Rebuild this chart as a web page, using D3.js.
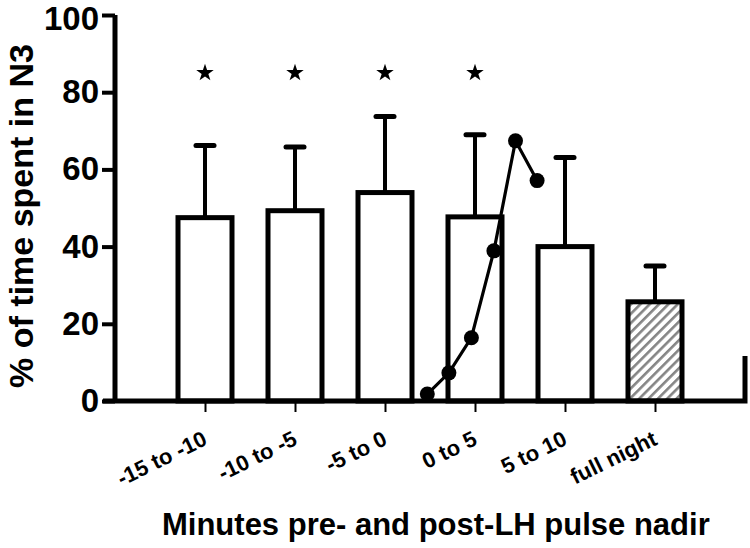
<!DOCTYPE html>
<html>
<head>
<meta charset="utf-8">
<script src="https://cdn.jsdelivr.net/npm/d3@7"></script>
<style>
  body { margin: 0; background: #fff; }
  text { font-family: Arial, "Liberation Sans", sans-serif; font-weight: bold; }
</style>
</head>
<body>
<svg width="750" height="548"></svg>
<script>
// data
var categories = ['-15 to -10', '-10 to -5', '-5 to 0', '0 to 5', '5 to 10', 'full night']
var barMeans = [47.5, 49.3, 54, 47.7, 40, 25.7]
var barErrTop = [66.2, 65.8, 73.7, 69, 63.1, 35]
var starred = ['-15 to -10', '-10 to -5', '-5 to 0', '0 to 5']
var starLevel = 85
// LH pulse curve, x in category units (0 = first category)
var lineX = [2.47, 2.71, 2.96, 3.21, 3.45, 3.69]
var lineY = [1.8, 7.3, 16.4, 38.9, 67.4, 57.1]
var yTicks = [0, 20, 40, 60, 80, 100]

var svg = d3.select('svg')

var x = d3.scalePoint()
  .domain(categories)
  .range([115, 745])
  .padding(1)

var xi = d3.scaleLinear()
  .domain([0, 1])
  .range([x(categories[0]), x(categories[1])])

var y = d3.scaleLinear()
  .domain([0, 100])
  .range([401, 15])

var barW = x.step() * 0.6

// hatch for the full night bar
var defs = svg.append('defs')
defs.append('pattern')
  .attr('id', 'hatch')
  .attr('patternUnits', 'userSpaceOnUse')
  .attr('width', 6.6).attr('height', 6.6)
  .attr('patternTransform', 'rotate(45)')
  .append('rect')
  .attr('x', 0).attr('y', 0)
  .attr('width', 2.6).attr('height', 6.6)
  .attr('fill', '#858585')

// error bars (drawn first so bar outline sits on top)
var err = svg.append('g')
err.selectAll('line.stem')
  .data(categories).enter().append('line')
  .attr('class', 'stem')
  .attr('x1', d => x(d)).attr('x2', d => x(d))
  .attr('y1', (d, i) => y(barMeans[i]))
  .attr('y2', (d, i) => y(barErrTop[i]))
  .attr('stroke', '#000').attr('stroke-width', 4)
err.selectAll('line.cap')
  .data(categories).enter().append('line')
  .attr('class', 'cap')
  .attr('x1', d => x(d) - 9).attr('x2', d => x(d) + 9)
  .attr('y1', (d, i) => y(barErrTop[i]))
  .attr('y2', (d, i) => y(barErrTop[i]))
  .attr('stroke', '#000').attr('stroke-width', 5)
  .attr('stroke-linecap', 'round')

// bars
svg.append('g').selectAll('rect')
  .data(categories).enter().append('rect')
  .attr('x', d => x(d) - barW / 2)
  .attr('width', barW)
  .attr('y', (d, i) => y(barMeans[i]))
  .attr('height', (d, i) => y(0) - y(barMeans[i]))
  .attr('fill', d => d == 'full night' ? 'url(#hatch)' : '#fff')
  .attr('stroke', '#000')
  .attr('stroke-width', 5)

// stars
svg.append('g').selectAll('path')
  .data(starred).enter().append('path')
  .attr('d', d3.symbol().type(d3.symbolStar).size(95))
  .attr('transform', d => 'translate(' + x(d) + ',' + y(starLevel) + ')')
  .attr('fill', '#000')

// LH line
var pts = lineX.map((v, i) => [xi(v), y(lineY[i])])
svg.append('path')
  .datum(pts)
  .attr('d', d3.line())
  .attr('fill', 'none')
  .attr('stroke', '#000')
  .attr('stroke-width', 3.2)
svg.append('g').selectAll('circle')
  .data(pts).enter().append('circle')
  .attr('cx', d => d[0]).attr('cy', d => d[1])
  .attr('r', 7.5)
  .attr('fill', '#000')

// y axis
var yAxis = svg.append('g')
  .attr('transform', 'translate(115,0)')
  .call(d3.axisLeft(y).tickValues(yTicks).tickSize(13).tickSizeOuter(0).tickPadding(3))
yAxis.select('.domain').attr('stroke-width', 5).attr('d', 'M0,' + y(100) + 'V' + y(0))
yAxis.selectAll('.tick line').attr('stroke-width', 4)
yAxis.selectAll('.tick text')
  .style('font-size', '33px')
  .attr('fill', '#000')
  .attr('y', d => d == 100 ? 4 : 0)

// x axis
var xAxis = svg.append('g')
  .attr('transform', 'translate(0,' + y(0) + ')')
  .call(d3.axisBottom(x).tickSize(11).tickSizeOuter(0))
xAxis.select('.domain').attr('stroke-width', 5).attr('d', 'M103,0H745V-45')
xAxis.selectAll('.tick line').attr('stroke-width', 2).attr('y1', 2)
xAxis.selectAll('.tick text')
  .style('font-size', '22px')
  .attr('fill', '#000')
  .attr('text-anchor', 'end')
  .attr('y', 0).attr('dy', 0)
  .attr('transform', 'translate(3,43) rotate(-26)')

// axis titles
svg.append('text')
  .attr('transform', 'translate(33,216) rotate(-90)')
  .attr('text-anchor', 'middle')
  .style('font-size', '34px')
  .text('% of time spent in N3')

svg.append('text')
  .attr('x', 162).attr('y', 535)
  .style('font-size', '31px')
  .text('Minutes pre- and post-LH pulse nadir')
</script>
</body>
</html>
